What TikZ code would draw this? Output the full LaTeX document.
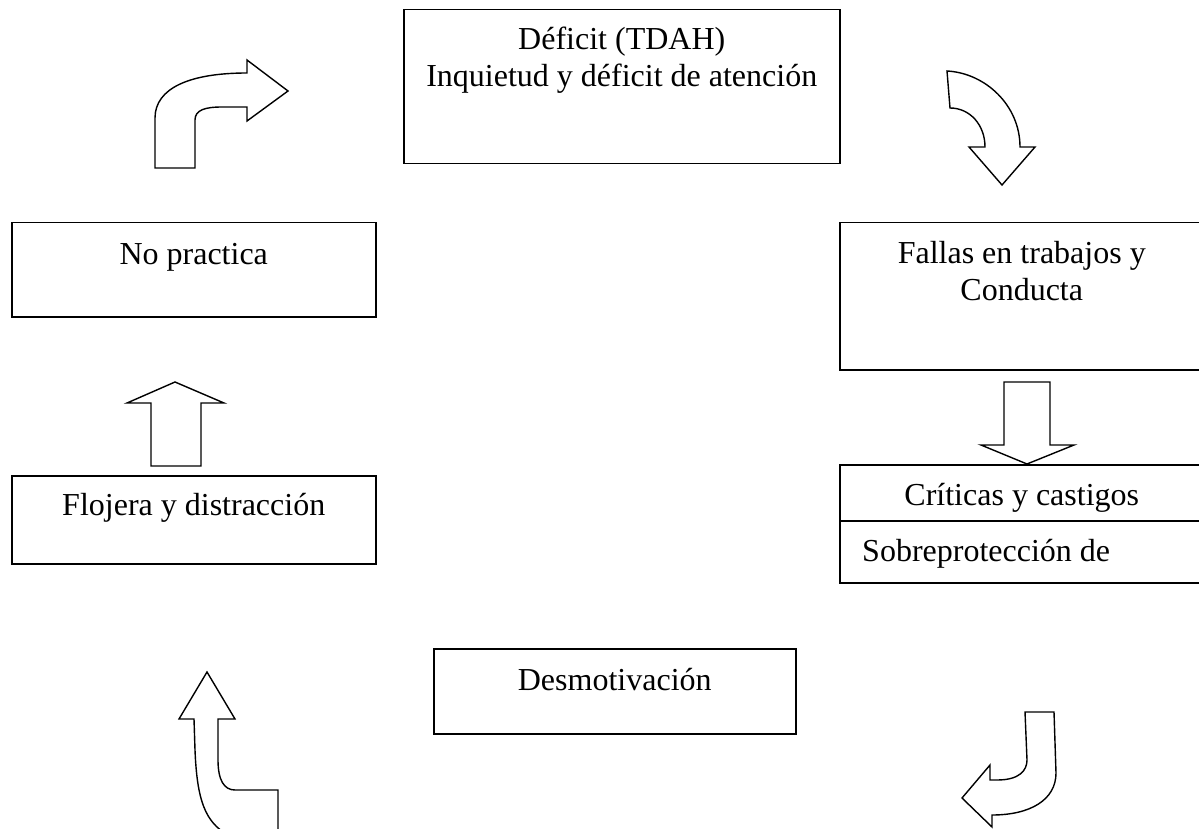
\documentclass[tikz,border=0pt]{standalone}
\usepackage{fontspec}
\setmainfont{Liberation Serif}
\usepackage{tikz}
\usetikzlibrary{positioning, calc}

\begin{document}
\begin{tikzpicture}[
  x=1pt, y=-1pt,
  box/.style={draw, line width=1.5pt, anchor=north west, inner sep=0pt},
  txt/.style={font=\fontsize{32}{37}\selectfont, align=center, anchor=base, inner sep=0pt},
  bigarrow/.style={draw, line width=1.4pt, line join=miter},
]

% page frame
\clip (0,0) rectangle (1199,829);

% boxes of the cycle
\node[box, minimum width=436pt, minimum height=154pt] (deficit) at (403,9) {};
\node[box, minimum width=364pt, minimum height=94pt] (nopract) at (11,222) {};
\node[box, minimum width=364pt, minimum height=147pt] (fallas) at (839,222) {};
\node[box, minimum width=364pt, minimum height=118pt] (criticas) at (839,464) {};
\node[box, minimum width=364pt, minimum height=88pt] (flojera) at (11,475) {};
\node[box, minimum width=362pt, minimum height=85pt] (desmot) at (433,648) {};

\draw[line width=1.5pt] ($(criticas.north west)+(0,57)$) -- ($(criticas.north east)+(0,57)$);

% texts
\node[txt] (deficitT) at ($(deficit.north)+(0,41)$) {Déficit (TDAH)};
\node[txt] (deficitU) at ($(deficit.north)+(0,78)$) {Inquietud y déficit de atención};
\node[txt] (nopractT) at ($(nopract.north)+(0,42)$) {No practica};
\node[txt] (fallasT) at ($(fallas.north)+(0,41)$) {Fallas en trabajos y};
\node[txt] (fallasU) at ($(fallas.north)+(0,78)$) {Conducta};
\node[txt] (criticasT) at ($(criticas.north)+(0,41)$) {Críticas y castigos};
\node[txt, anchor=base west] (criticasU) at ($(criticas.north west)+(23,97)$) {Sobreprotección de};
\node[txt] (flojeraT) at ($(flojera.north)+(0,40)$) {Flojera y distracción};
\node[txt] (desmotT) at ($(desmot.north)+(0,42)$) {Desmotivación};

% block arrows
\draw[bigarrow] (155,168) -- (155,118) .. controls (155,88) and (190,73) .. (247,73)
  -- (247,60) -- (288,91) -- (247,121) -- (247,107) -- (222,107)
  .. controls (205,107) and (195,110) .. (195,120) -- (195,168) -- cycle;
\draw[bigarrow] (947,71) .. controls (985,73) and (1020,105) .. (1020,147)
  -- (1035,147) -- (1002,185) -- (969,147) -- (985,147)
  .. controls (985,125) and (970,108) .. (950,108) -- cycle;
\draw[bigarrow] (1004,382) -- (1050,382) -- (1050,445) -- (1074,445) -- (1027,464)
  -- (981,445) -- (1004,445) -- cycle;
\draw[bigarrow] (151,466) -- (151,403) -- (127,403) -- (175,382) -- (224,403)
  -- (201,403) -- (201,466) -- cycle;
\draw[bigarrow] (1025,712) -- (1054,712) -- (1056,773) .. controls (1056,800) and (1030,815) .. (992,815)
  -- (992,827) -- (962,798) -- (990,765) -- (990,780) -- (997,780)
  .. controls (1020,780) and (1027,770) .. (1027,760) -- cycle;
\draw[bigarrow] (278,835) -- (278,790) -- (235,790) .. controls (224,790) and (218,780) .. (218,760)
  -- (218,719) -- (235,719) -- (207,672) -- (179,719) -- (194,719) -- (195,750)
  .. controls (197,800) and (205,822) .. (228,835);

\end{tikzpicture}
\end{document}
